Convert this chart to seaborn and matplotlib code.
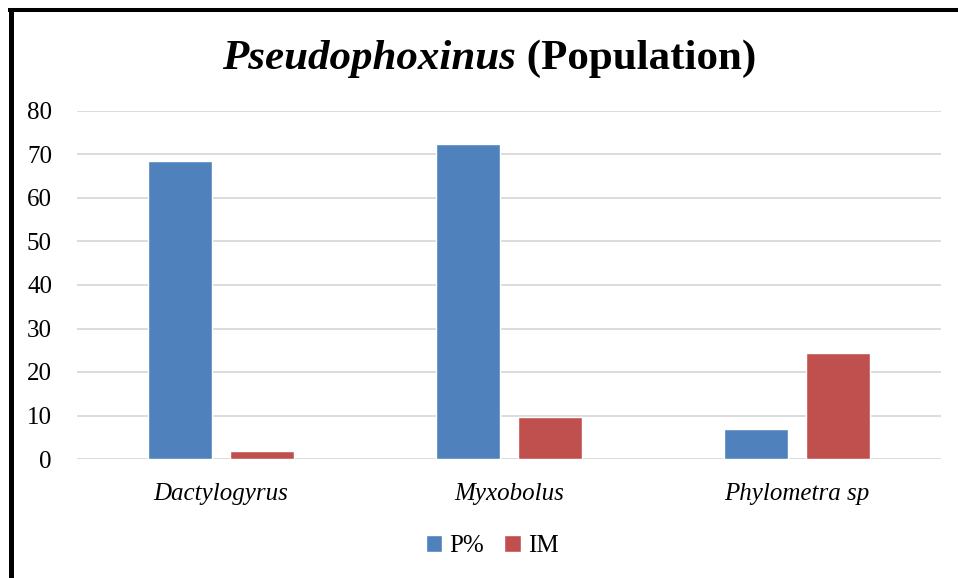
import pandas as pd
import matplotlib.pyplot as plt
import seaborn as sns
from matplotlib.lines import Line2D

# Dados
parasites = ['Dactylogyrus', 'Myxobolus', 'Phylometra sp']
p_percent = [68.4, 72.3, 6.9]
im_values = [1.8, 9.7, 24.4]
series = ['P%', 'IM']
colors = ['#4f81bd', '#c0504d']
yticks = [0, 10, 20, 30, 40, 50, 60, 70, 80]

df = pd.DataFrame({
    'parasite': parasites * 2,
    'value': p_percent + im_values,
    'serie': [series[0]] * 3 + [series[1]] * 3,
})

sns.set_style('white')
plt.rcParams['font.family'] = ['Liberation Serif', 'DejaVu Serif']
plt.rcParams['text.color'] = 'black'

fig = plt.figure(figsize=(9.58, 5.78), dpi=100)
ax = fig.add_axes([77 / 958, 1 - 459 / 578, 864 / 958, 348 / 578])

sns.barplot(data=df, x='parasite', y='value', hue='serie', palette=colors,
            width=0.57, gap=0.22, saturation=1, ax=ax, legend=True)

# Grade e eixos
ax.set_ylim(0, 80)
ax.set_xlim(-0.5, 2.5)
ax.set_yticks(yticks)
ax.set_yticklabels([str(t) for t in yticks], fontsize=18, color='black')
ax.grid(axis='y', color='#d9d9d9', linewidth=1.3)
ax.set_axisbelow(True)
for s in ax.spines.values():
    s.set_visible(False)
ax.tick_params(axis='both', length=0)
ax.tick_params(axis='y', pad=18)
ax.tick_params(axis='x', pad=17)
ax.set_xticks(range(3))
ax.set_xticklabels(parasites, fontsize=18, style='italic', color='black')
ax.set_xlabel('')
ax.set_ylabel('')

# Titulo (duas partes: italico + normal, ambos em negrito)
title_y = 1 - 59 / 578
t1 = fig.text(0, title_y, 'Pseudophoxinus', fontsize=28, fontweight='bold',
              style='italic', va='center', ha='left')
t2 = fig.text(0, title_y, ' (Population)', fontsize=28, fontweight='bold',
              va='center', ha='left')
fig.canvas.draw()
r = fig.canvas.get_renderer()
w1 = t1.get_window_extent(r).width
w2 = t2.get_window_extent(r).width
scale = 534 / (w1 + w2)
t1.set_fontsize(28 * scale)
t2.set_fontsize(28 * scale)
w1 *= scale
w2 *= scale
x0 = 489 - (w1 + w2) / 2
t1.set_x(x0 / 958)
t2.set_x((x0 + w1) / 958)

# Legenda
handles, labels = ax.get_legend_handles_labels()
ax.legend(handles, labels, loc='center', bbox_to_anchor=(0.514, 1 - 546 / 578),
          bbox_transform=fig.transFigure, ncol=2, frameon=False, fontsize=18,
          handlelength=0.65, handleheight=0.65, handletextpad=0.3,
          columnspacing=0.8)

# Moldura
fig.add_artist(Line2D([10.5 / 958, 10.5 / 958], [0, 1 - 8 / 578],
                      transform=fig.transFigure, color='black', linewidth=3.6,
                      solid_capstyle='butt'))
fig.add_artist(Line2D([8 / 958, 1], [1 - 10 / 578, 1 - 10 / 578],
                      transform=fig.transFigure, color='black', linewidth=2.9,
                      solid_capstyle='butt'))

plt.savefig('out.png', dpi=100)
